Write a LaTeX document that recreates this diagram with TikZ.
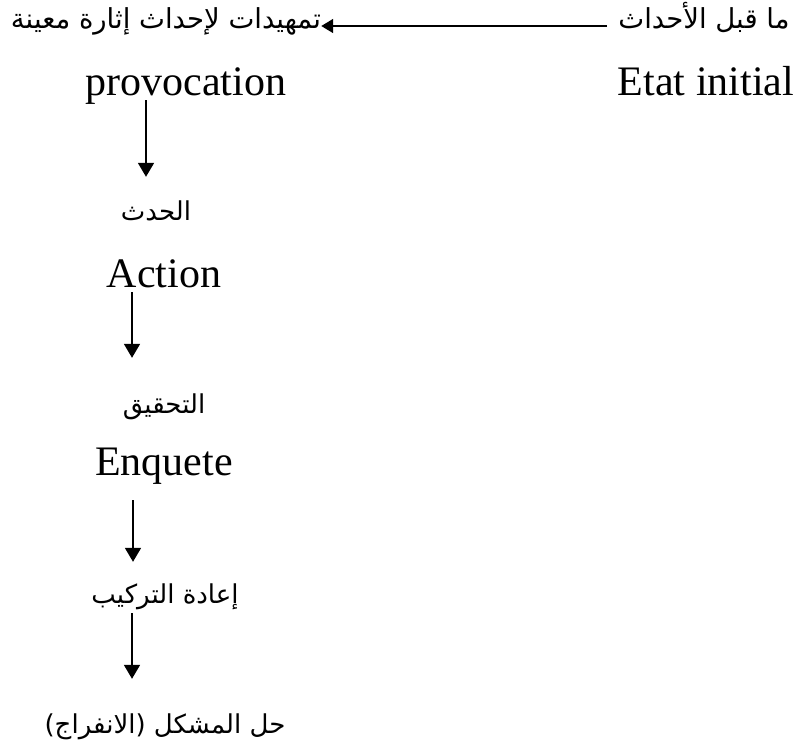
\documentclass[tikz,border=0pt]{standalone}
\usepackage{fontspec}
\setmainfont{Liberation Serif}
\newfontfamily\arabicfont[Script=Arabic]{DejaVu Sans}
\TeXXeTstate=1
\usetikzlibrary{arrows.meta}
\begin{document}
\begin{tikzpicture}[x=1pt,y=-1pt,
  lat/.style={font=\fontsize{42}{50}\selectfont, inner sep=0pt, anchor=base, text height=30pt, text depth=8pt},
  ar/.style={font=\arabicfont\fontsize{26}{30}\selectfont, inner sep=0pt, anchor=base, text height=20pt, text depth=8pt},
  artop/.style={ar, font=\arabicfont\fontsize{27.5}{32}\selectfont},
  arr/.style={line width=1.8pt, -{Triangle[length=14pt,width=16pt]}},
  harr/.style={line width=1.6pt, -{Triangle[length=12pt,width=14pt]}}]
\useasboundingbox (0,0) rectangle (802,748);
% top row
\node[artop] (pre) at (704,28) {\beginR ما قبل الأحداث\endR};
\node[artop] (tamhid) at (166,28) {\beginR تمهيدات لإحداث إثارة معينة\endR};
\node[lat] (prov) at (186,95) {provocation};
\node[lat] (etat) at (706,95) {Etat initial};
% column
\node[ar] (hadath) at (156,220) {\beginR الحدث\endR};
\node[lat] (action) at (164,287) {Action};
\node[ar] (tahqiq) at (164,413) {\beginR التحقيق\endR};
\node[lat] (enquete) at (164,475) {Enquete};
\node[ar] (iada) at (165,603) {\beginR إعادة التركيب\endR};
\node[ar] (hall) at (165,733) {\beginR حل المشكل (الانفراج)\endR};
% arrow columns
\coordinate (hy) at (0,26);
\coordinate (c1) at (146,0);
\coordinate (c2) at (132,0);
\coordinate (c3) at (133,0);
\coordinate (c4) at (132,0);
\draw[harr, shorten <=11pt] (pre.west |- hy) -- (tamhid.east |- hy);
\draw[arr, shorten <=-3pt, shorten >=23pt] (prov.south -| c1) -- (hadath.north -| c1);
\draw[arr, shorten <=-3pt, shorten >=35pt] (action.south -| c2) -- (tahqiq.north -| c2);
\draw[arr, shorten <=17pt, shorten >=21pt] (enquete.south -| c3) -- (iada.north -| c3);
\draw[arr, shorten <=2pt, shorten >=34pt] (iada.south -| c4) -- (hall.north -| c4);
\end{tikzpicture}
\end{document}
